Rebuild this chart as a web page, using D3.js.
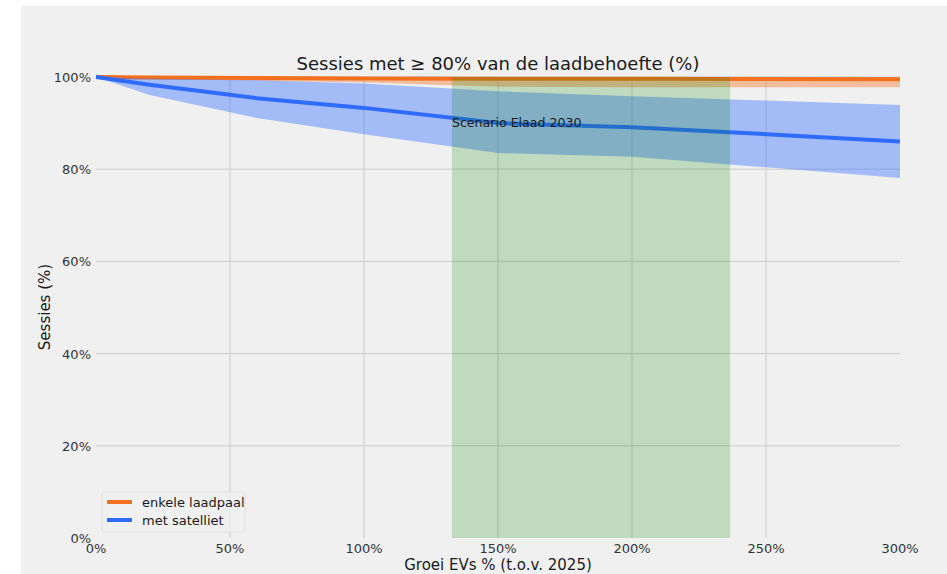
<!DOCTYPE html>
<html>
<head>
<meta charset="utf-8">
<script src="https://cdn.jsdelivr.net/npm/d3@7"></script>
<style>
  body { margin: 0; background: #ffffff; }
  svg { display: block; font-family: "DejaVu Sans", sans-serif; }
</style>
</head>
<body>
<svg width="947" height="574"></svg>
<script>
// growth of EVs (% vs 2025)
const growth = [0, 20, 60, 100, 150, 200, 250, 300];

// single charger
const singleMean  = [100, 99.9, 99.8, 99.7, 99.6, 99.6, 99.55, 99.5];
const singleLow   = [100, 99.6, 99.2, 98.8, 97.9, 97.8, 97.8, 97.8];
const singleHigh  = [100, 100, 100, 100, 100, 100, 100, 100];

// with satellite
const satMean = [100, 98.3, 95.4, 93.3, 90.0, 89.1, 87.6, 86.0];
const satLow  = [100, 96.1, 91.1, 87.6, 83.5, 82.7, 80.4, 78.1];
const satHigh = [100, 99.7, 99.3, 98.6, 96.9, 95.8, 94.9, 93.9];

const scenario = [132.8, 236.6];
const scenarioLabel = "Scenario Elaad 2030";

const xTicks = [0, 50, 100, 150, 200, 250, 300];
const yTicks = [0, 20, 40, 60, 80, 100];

const seriesNames = ["enkele laadpaal", "met satelliet"];
const colors = { single: "#f5701e", sat: "#2f6bff" };

const svg = d3.select("svg");

// figure background
svg.append("rect")
  .attr("x", 21).attr("y", 6)
  .attr("width", 926).attr("height", 568)
  .attr("fill", "#f0f0f0");

const x = d3.scaleLinear().domain([0, 300]).range([96, 900]);
const y = d3.scaleLinear().domain([0, 100]).range([538, 77]);

// grid (edge lines are not visible in the original)
svg.append("g").selectAll("line")
  .data(xTicks.filter(d => d > 0 && d < 300)).enter().append("line")
  .attr("x1", d => x(d)).attr("x2", d => x(d))
  .attr("y1", y(0)).attr("y2", y(100))
  .attr("stroke", "#cbcbcb").attr("stroke-width", 1);

svg.append("g").selectAll("line")
  .data(yTicks.filter(d => d > 0)).enter().append("line")
  .attr("x1", x(0)).attr("x2", x(300))
  .attr("y1", d => y(d)).attr("y2", d => y(d))
  .attr("stroke", "#cbcbcb").attr("stroke-width", 1);

const area = (lo, hi) => d3.area()
  .x((d, i) => x(growth[i]))
  .y0((d, i) => y(lo[i]))
  .y1((d, i) => y(hi[i]))(growth);

const line = vals => d3.line()
  .x((d, i) => x(growth[i]))
  .y((d, i) => y(vals[i]))(growth);

svg.append("path")
  .attr("d", area(singleLow, singleHigh))
  .attr("fill", colors.single).attr("fill-opacity", 0.4);

svg.append("path")
  .attr("d", line(singleMean))
  .attr("fill", "none").attr("stroke", colors.single).attr("stroke-width", 4);

svg.append("path")
  .attr("d", area(satLow, satHigh))
  .attr("fill", colors.sat).attr("fill-opacity", 0.4);

svg.append("path")
  .attr("d", line(satMean))
  .attr("fill", "none").attr("stroke", colors.sat).attr("stroke-width", 4);

// scenario span
svg.append("rect")
  .attr("x", x(scenario[0])).attr("y", y(100))
  .attr("width", x(scenario[1]) - x(scenario[0]))
  .attr("height", y(0) - y(100))
  .attr("fill", "#008000").attr("fill-opacity", 0.2);

svg.append("text")
  .attr("x", x(scenario[0])).attr("y", 127)
  .attr("font-size", 12.6).attr("fill", "#1a1a1a")
  .text(scenarioLabel);

// tick labels
svg.append("g").selectAll("text")
  .data(yTicks).enter().append("text")
  .attr("x", 91).attr("y", d => y(d) + 5)
  .attr("text-anchor", "end")
  .attr("font-size", 13).attr("fill", "#333")
  .text(d => d + "%");

svg.append("g").selectAll("text")
  .data(xTicks).enter().append("text")
  .attr("x", d => x(d)).attr("y", 553)
  .attr("text-anchor", "middle")
  .attr("font-size", 13).attr("fill", "#333")
  .text(d => d + "%");

// titles
svg.append("text")
  .attr("x", 498).attr("y", 70)
  .attr("text-anchor", "middle")
  .attr("font-size", 18).attr("fill", "#1a1a1a")
  .text("Sessies met \u2265 80% van de laadbehoefte (%)");

svg.append("text")
  .attr("x", 498).attr("y", 570)
  .attr("text-anchor", "middle")
  .attr("font-size", 15).attr("fill", "#1a1a1a")
  .text("Groei EVs % (t.o.v. 2025)");

svg.append("text")
  .attr("transform", "translate(50,307) rotate(-90)")
  .attr("text-anchor", "middle")
  .attr("font-size", 15).attr("fill", "#1a1a1a")
  .text("Sessies (%)");

// legend
const legend = svg.append("g").attr("transform", "translate(102,492)");
legend.append("rect")
  .attr("width", 143).attr("height", 40).attr("rx", 2)
  .attr("fill", "#f0f0f0").attr("fill-opacity", 0.8)
  .attr("stroke", "#e0e0e0");

[colors.single, colors.sat].forEach((c, i) => {
  legend.append("line")
    .attr("x1", 5).attr("x2", 30)
    .attr("y1", 10 + i * 18).attr("y2", 10 + i * 18)
    .attr("stroke", c).attr("stroke-width", 4);
  legend.append("text")
    .attr("x", 40).attr("y", 15 + i * 18)
    .attr("font-size", 13).attr("fill", "#1a1a1a")
    .text(seriesNames[i]);
});
</script>
</body>
</html>
